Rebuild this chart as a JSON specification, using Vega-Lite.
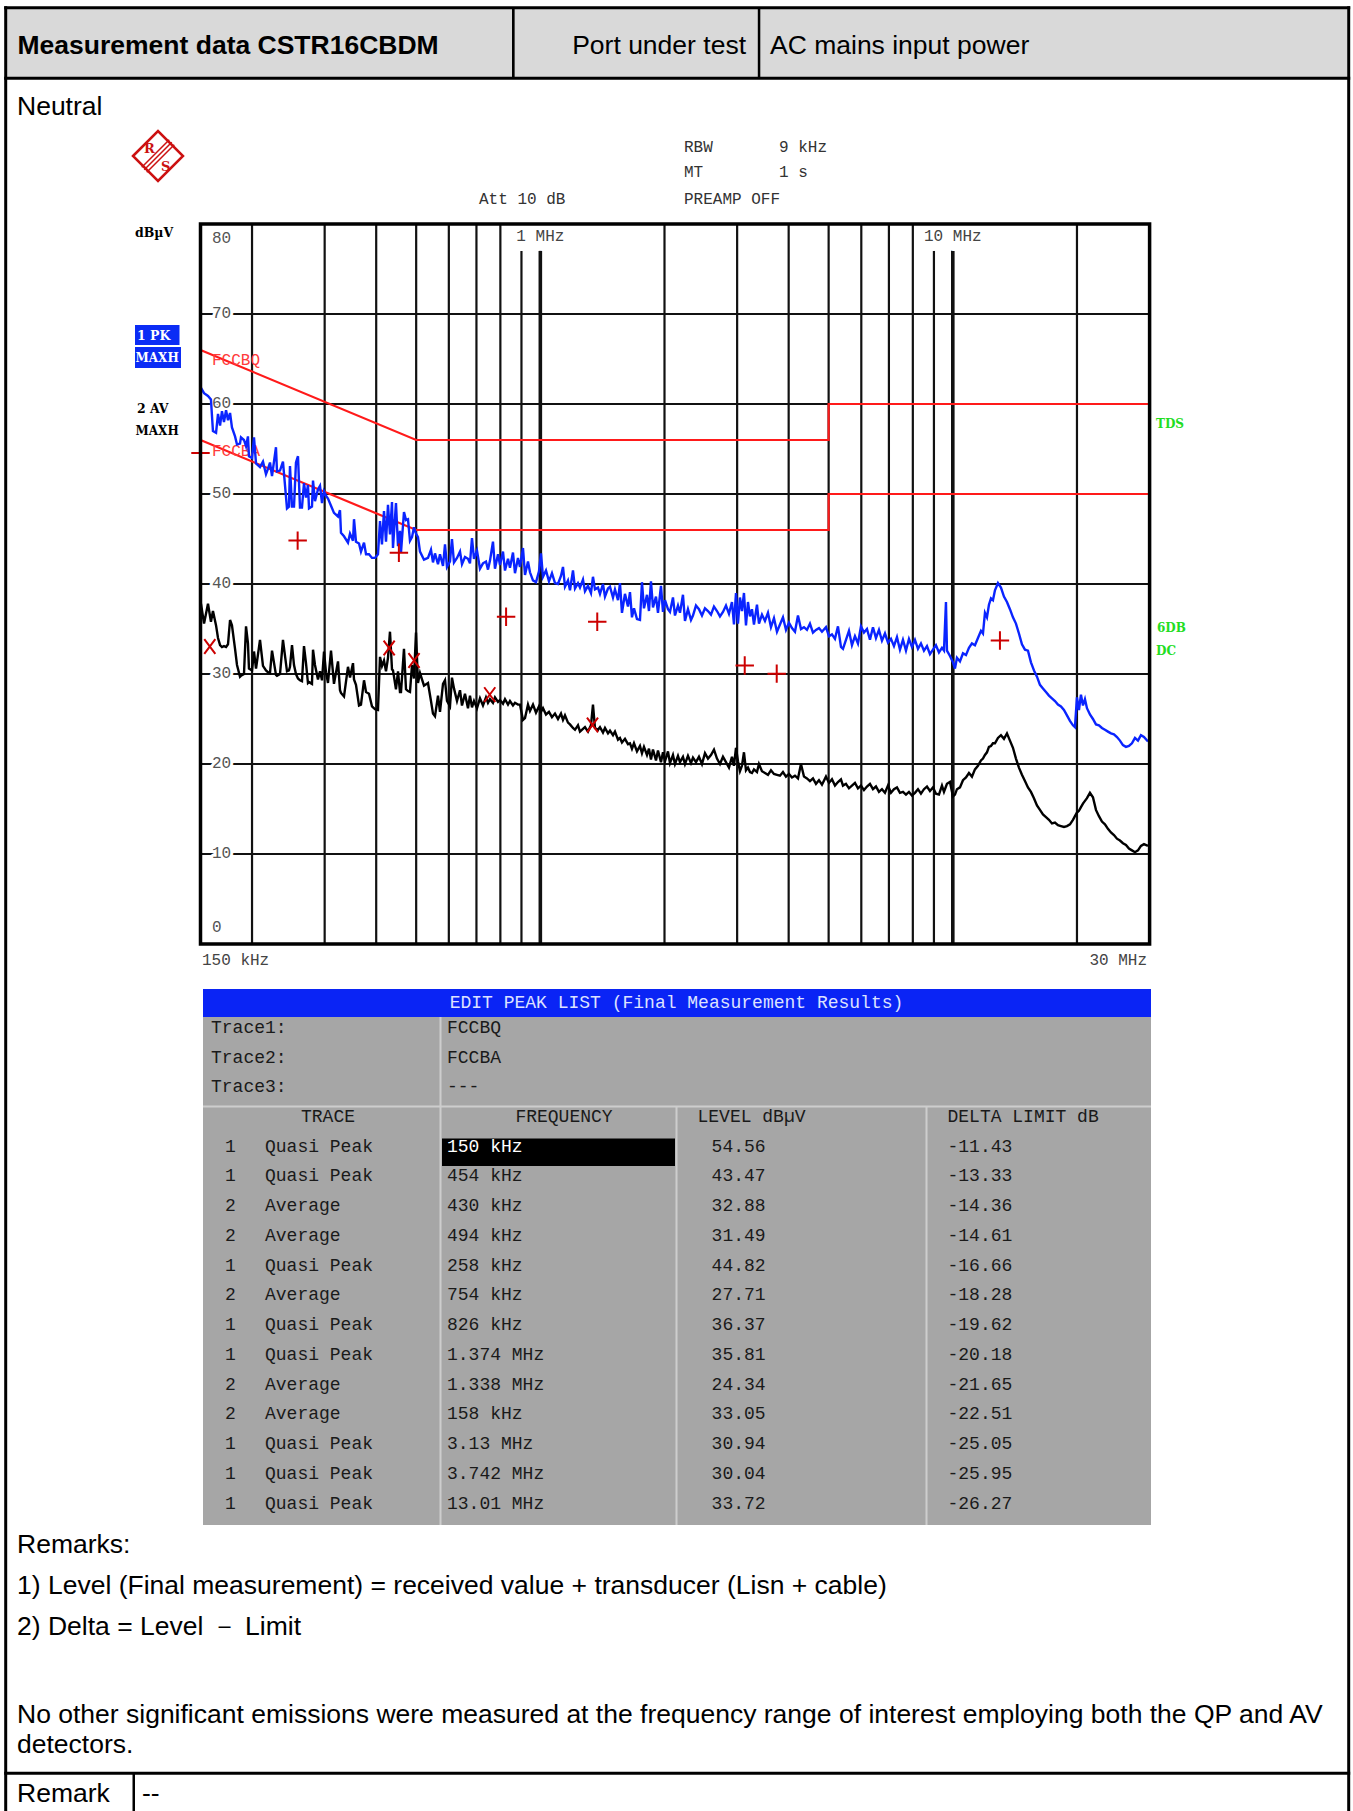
{
"$schema":"https://vega.github.io/schema/vega-lite/v6.json",
"width":1353,"height":1811,"autosize":{"type":"none"},"padding":0,
"background":"#ffffff",
"config":{"view":{"stroke":null},"text":{"align":"left","baseline":"alphabetic","font":"Liberation Sans","fontSize":26.5,"color":"#000000"}},
"data":{"values":[{}]},
"datasets":{
"scan":[
{"f":150.4,"pk":61.8,"av":37.8},{"f":153.0,"pk":61.2,"av":35.6},{"f":156.4,"pk":60.9,"av":37.8},{"f":159.0,"pk":60.5,"av":35.8},{"f":160.8,"pk":57.0,"av":37.0},{"f":163.6,"pk":56.8,"av":35.4},{"f":165.4,"pk":58.9,"av":34.0},{"f":167.3,"pk":57.6,"av":33.2},{"f":169.1,"pk":59.2,"av":33.0},{"f":171.0,"pk":58.0,"av":33.1},{"f":173.0,"pk":59.3,"av":33.0},{"f":174.9,"pk":58.2,"av":33.3},{"f":176.9,"pk":59.0,"av":36.0},{"f":178.8,"pk":57.4,"av":35.4},{"f":181.9,"pk":56.4,"av":32.8},{"f":183.9,"pk":55.5,"av":31.0},{"f":187.0,"pk":55.6,"av":29.7},{"f":188.0,"pk":56.3,"av":29.8},{"f":191.2,"pk":56.0,"av":30.0},{"f":193.4,"pk":55.3,"av":35.3},{"f":195.5,"pk":56.4,"av":33.4},{"f":196.6,"pk":54.2,"av":30.6},{"f":200.0,"pk":54.0,"av":30.4},{"f":202.2,"pk":56.3,"av":32.5},{"f":204.5,"pk":53.4,"av":30.6},{"f":209.1,"pk":53.0,"av":33.8},{"f":212.6,"pk":53.6,"av":30.9},{"f":216.2,"pk":52.2,"av":30.4},{"f":218.6,"pk":52.8,"av":30.2},{"f":221.1,"pk":53.5,"av":30.1},{"f":223.6,"pk":52.0,"av":32.6},{"f":228.6,"pk":55.2,"av":29.9},{"f":229.9,"pk":52.5,"av":29.8},{"f":233.8,"pk":52.6,"av":30.0},{"f":237.7,"pk":53.6,"av":33.8},{"f":243.1,"pk":48.4,"av":30.3},{"f":245.8,"pk":48.6,"av":30.4},{"f":247.2,"pk":53.1,"av":30.8},{"f":250.0,"pk":48.6,"av":33.2},{"f":252.8,"pk":48.6,"av":31.0},{"f":255.6,"pk":53.5,"av":30.0},{"f":258.5,"pk":54.2,"av":29.5},{"f":261.4,"pk":48.5,"av":29.3},{"f":264.3,"pk":48.5,"av":29.2},{"f":267.3,"pk":51.2,"av":33.1},{"f":270.3,"pk":49.6,"av":31.2},{"f":273.3,"pk":51.0,"av":29.0},{"f":274.9,"pk":48.4,"av":29.1},{"f":279.5,"pk":48.6,"av":28.9},{"f":281.1,"pk":51.5,"av":32.7},{"f":284.2,"pk":49.2,"av":31.0},{"f":289.0,"pk":50.5,"av":29.4},{"f":292.3,"pk":50.9,"av":30.3},{"f":295.6,"pk":49.0,"av":29.3},{"f":298.9,"pk":50.3,"av":32.5},{"f":302.2,"pk":49.8,"av":30.2},{"f":305.6,"pk":49.5,"av":29.0},{"f":310.8,"pk":48.7,"av":32.6},{"f":316.0,"pk":47.9,"av":28.9},{"f":323.2,"pk":47.5,"av":31.4},{"f":326.8,"pk":48.2,"av":28.2},{"f":328.6,"pk":45.7,"av":27.9},{"f":334.2,"pk":45.3,"av":27.5},{"f":341.7,"pk":44.6,"av":30.8},{"f":345.6,"pk":45.6,"av":29.6},{"f":351.4,"pk":44.8,"av":31.2},{"f":353.4,"pk":47.2,"av":29.4},{"f":357.3,"pk":44.7,"av":28.8},{"f":363.4,"pk":44.5,"av":26.5},{"f":367.4,"pk":43.6,"av":26.6},{"f":373.7,"pk":44.6,"av":29.3},{"f":377.9,"pk":43.3,"av":28.0},{"f":384.2,"pk":43.3,"av":27.8},{"f":390.7,"pk":42.9,"av":26.4},{"f":397.3,"pk":42.9,"av":26.1},{"f":404.0,"pk":43.3,"av":26.0},{"f":408.6,"pk":47.0,"av":31.9},{"f":413.1,"pk":44.4,"av":30.9},{"f":417.8,"pk":48.1,"av":31.5},{"f":422.5,"pk":44.7,"av":30.3},{"f":427.2,"pk":48.8,"av":31.8},{"f":432.0,"pk":45.5,"av":34.7},{"f":436.9,"pk":49.1,"av":30.5},{"f":439.3,"pk":44.0,"av":30.4},{"f":446.7,"pk":49.0,"av":28.3},{"f":451.8,"pk":44.2,"av":30.3},{"f":456.8,"pk":45.9,"av":28.0},{"f":459.4,"pk":43.5,"av":28.0},{"f":467.1,"pk":48.0,"av":32.8},{"f":472.4,"pk":47.1,"av":28.3},{"f":477.7,"pk":47.2,"av":28.1},{"f":483.0,"pk":44.8,"av":28.0},{"f":488.5,"pk":45.2,"av":31.0},{"f":494.0,"pk":46.3,"av":29.5},{"f":499.5,"pk":45.6,"av":34.6},{"f":505.1,"pk":45.2,"av":29.0},{"f":510.8,"pk":43.6,"av":30.1},{"f":522.3,"pk":42.7,"av":28.7},{"f":534.1,"pk":42.9,"av":29.0},{"f":543.1,"pk":43.8,"av":27.0},{"f":549.2,"pk":42.4,"av":25.6},{"f":555.4,"pk":43.4,"av":25.3},{"f":564.8,"pk":42.2,"av":27.6},{"f":571.1,"pk":43.3,"av":25.8},{"f":580.8,"pk":42.0,"av":28.9},{"f":587.3,"pk":44.4,"av":29.3},{"f":593.9,"pk":41.9,"av":27.0},{"f":603.9,"pk":42.5,"av":26.4},{"f":610.6,"pk":45.0,"av":29.6},{"f":617.5,"pk":42.4,"av":28.4},{"f":628.0,"pk":42.9,"av":27.0},{"f":638.6,"pk":43.6,"av":28.2},{"f":645.7,"pk":42.2,"av":26.5},{"f":656.6,"pk":43.0,"av":27.8},{"f":667.7,"pk":42.8,"av":26.2},{"f":675.2,"pk":42.3,"av":27.6},{"f":682.8,"pk":45.1,"av":26.3},{"f":690.5,"pk":42.8,"av":27.0},{"f":702.1,"pk":43.7,"av":26.2},{"f":714.0,"pk":41.7,"av":27.3},{"f":726.0,"pk":42.3,"av":26.5},{"f":738.3,"pk":42.5,"av":27.4},{"f":746.6,"pk":41.6,"av":26.8},{"f":755.0,"pk":42.6,"av":27.2},{"f":767.7,"pk":44.7,"av":26.8},{"f":776.3,"pk":41.7,"av":27.4},{"f":789.5,"pk":43.3,"av":26.9},{"f":798.3,"pk":42.1,"av":27.1},{"f":811.8,"pk":43.6,"av":26.7},{"f":820.9,"pk":41.5,"av":27.2},{"f":834.8,"pk":42.8,"av":26.6},{"f":844.1,"pk":41.8,"av":27.0},{"f":858.4,"pk":43.5,"av":26.5},{"f":868.0,"pk":41.2,"av":26.8},{"f":882.7,"pk":42.9,"av":26.6},{"f":892.6,"pk":41.9,"av":26.6},{"f":907.7,"pk":44.0,"av":24.9},{"f":917.9,"pk":41.0,"av":25.1},{"f":933.4,"pk":42.5,"av":26.6},{"f":943.8,"pk":41.3,"av":25.9},{"f":959.8,"pk":40.4,"av":26.6},{"f":976.0,"pk":40.2,"av":25.7},{"f":992.4,"pk":41.4,"av":26.4},{"f":1003.6,"pk":43.4,"av":25.8},{"f":1014.9,"pk":40.8,"av":26.2},{"f":1032.1,"pk":41.5,"av":25.5},{"f":1049.4,"pk":40.3,"av":25.8},{"f":1067.1,"pk":41.2,"av":25.2},{"f":1085.2,"pk":40.1,"av":25.6},{"f":1103.5,"pk":40.0,"av":25.0},{"f":1122.1,"pk":40.9,"av":25.6},{"f":1134.8,"pk":41.9,"av":24.9},{"f":1147.5,"pk":39.7,"av":25.4},{"f":1166.9,"pk":40.4,"av":24.6},{"f":1180.0,"pk":39.3,"av":24.4},{"f":1199.9,"pk":41.5,"av":24.0},{"f":1213.4,"pk":39.5,"av":23.8},{"f":1233.9,"pk":40.1,"av":24.3},{"f":1247.7,"pk":39.6,"av":23.6},{"f":1268.8,"pk":40.5,"av":23.9},{"f":1283.0,"pk":39.2,"av":24.1},{"f":1304.7,"pk":39.8,"av":23.6},{"f":1326.7,"pk":39.0,"av":24.3},{"f":1341.6,"pk":40.8,"av":26.6},{"f":1356.6,"pk":39.4,"av":24.0},{"f":1379.6,"pk":39.6,"av":23.8},{"f":1395.1,"pk":38.9,"av":24.1},{"f":1418.7,"pk":40.0,"av":23.5},{"f":1434.6,"pk":38.6,"av":24.0},{"f":1458.9,"pk":39.5,"av":23.4},{"f":1475.2,"pk":39.7,"av":23.7},{"f":1500.1,"pk":38.5,"av":23.2},{"f":1516.9,"pk":39.4,"av":23.6},{"f":1542.6,"pk":38.2,"av":22.7},{"f":1559.8,"pk":40.1,"av":22.9},{"f":1577.3,"pk":36.8,"av":22.4},{"f":1603.9,"pk":38.9,"av":22.8},{"f":1631.1,"pk":37.5,"av":22.2},{"f":1649.4,"pk":39.1,"av":22.3},{"f":1667.9,"pk":36.3,"av":21.7},{"f":1686.7,"pk":37.3,"av":22.3},{"f":1715.2,"pk":36.1,"av":21.4},{"f":1744.1,"pk":36.0,"av":22.0},{"f":1763.6,"pk":40.2,"av":21.2},{"f":1783.5,"pk":37.3,"av":21.9},{"f":1813.7,"pk":38.8,"av":21.0},{"f":1833.9,"pk":37.0,"av":21.7},{"f":1854.5,"pk":40.3,"av":20.5},{"f":1875.4,"pk":37.4,"av":21.6},{"f":1907.1,"pk":38.6,"av":20.4},{"f":1928.5,"pk":36.8,"av":21.5},{"f":1961.0,"pk":39.8,"av":20.2},{"f":1983.1,"pk":36.9,"av":21.3},{"f":2005.3,"pk":38.2,"av":20.3},{"f":2039.2,"pk":37.2,"av":21.4},{"f":2062.0,"pk":36.9,"av":20.1},{"f":2096.8,"pk":38.5,"av":21.0},{"f":2120.4,"pk":36.5,"av":20.0},{"f":2156.2,"pk":37.6,"av":20.9},{"f":2180.4,"pk":36.8,"av":20.2},{"f":2217.2,"pk":38.8,"av":20.8},{"f":2242.1,"pk":35.9,"av":20.0},{"f":2280.0,"pk":37.2,"av":20.9},{"f":2318.5,"pk":36.0,"av":20.1},{"f":2344.6,"pk":36.5,"av":20.7},{"f":2384.2,"pk":37.6,"av":20.2},{"f":2424.3,"pk":37.2,"av":20.8},{"f":2465.3,"pk":36.5,"av":20.0},{"f":2507.0,"pk":37.3,"av":21.2},{"f":2549.4,"pk":37.0,"av":20.6},{"f":2592.3,"pk":36.6,"av":21.0},{"f":2636.2,"pk":37.5,"av":21.6},{"f":2680.8,"pk":37.0,"av":20.6},{"f":2725.9,"pk":36.4,"av":20.0},{"f":2772.0,"pk":36.9,"av":20.8},{"f":2818.9,"pk":37.6,"av":20.2},{"f":2866.3,"pk":36.7,"av":19.6},{"f":2914.7,"pk":38.0,"av":20.8},{"f":2947.5,"pk":35.5,"av":19.8},{"f":2980.7,"pk":39.0,"av":21.8},{"f":3014.1,"pk":35.6,"av":20.3},{"f":3047.9,"pk":38.5,"av":19.2},{"f":3082.0,"pk":37.0,"av":19.8},{"f":3116.8,"pk":39.0,"av":21.3},{"f":3151.8,"pk":35.4,"av":19.3},{"f":3187.2,"pk":38.0,"av":19.6},{"f":3222.9,"pk":36.4,"av":19.1},{"f":3259.0,"pk":37.2,"av":19.0},{"f":3295.7,"pk":35.5,"av":19.4},{"f":3351.5,"pk":37.7,"av":19.1},{"f":3388.9,"pk":35.6,"av":20.0},{"f":3446.1,"pk":36.6,"av":19.2},{"f":3504.3,"pk":35.9,"av":19.0},{"f":3563.6,"pk":36.8,"av":18.8},{"f":3623.7,"pk":35.2,"av":19.3},{"f":3685.0,"pk":36.2,"av":18.9},{"f":3747.3,"pk":34.7,"av":18.8},{"f":3810.4,"pk":35.5,"av":18.7},{"f":3874.8,"pk":36.3,"av":19.1},{"f":3940.3,"pk":34.9,"av":18.6},{"f":4006.6,"pk":35.7,"av":18.9},{"f":4074.3,"pk":35.1,"av":18.5},{"f":4143.2,"pk":34.7,"av":18.7},{"f":4213.3,"pk":36.5,"av":18.4},{"f":4284.4,"pk":35.0,"av":20.0},{"f":4356.8,"pk":35.2,"av":18.6},{"f":4430.5,"pk":34.9,"av":18.4},{"f":4505.1,"pk":35.6,"av":18.1},{"f":4581.2,"pk":34.6,"av":18.4},{"f":4658.7,"pk":34.9,"av":17.8},{"f":4737.1,"pk":35.1,"av":18.2},{"f":4817.1,"pk":34.7,"av":17.7},{"f":4926.1,"pk":35.2,"av":18.6},{"f":5009.0,"pk":34.2,"av":17.9},{"f":5093.6,"pk":34.4,"av":18.3},{"f":5179.8,"pk":33.9,"av":17.6},{"f":5267.4,"pk":35.3,"av":18.0},{"f":5356.2,"pk":33.0,"av":18.3},{"f":5416.4,"pk":32.8,"av":17.6},{"f":5508.0,"pk":33.8,"av":17.8},{"f":5600.7,"pk":34.8,"av":17.3},{"f":5695.2,"pk":33.2,"av":17.6},{"f":5791.5,"pk":34.2,"av":17.9},{"f":5889.5,"pk":33.4,"av":17.3},{"f":5988.8,"pk":35.3,"av":17.6},{"f":6090.1,"pk":34.6,"av":17.1},{"f":6193.1,"pk":35.0,"av":17.5},{"f":6297.4,"pk":33.8,"av":17.8},{"f":6403.8,"pk":35.2,"av":17.2},{"f":6512.1,"pk":34.0,"av":17.5},{"f":6621.7,"pk":34.9,"av":16.9},{"f":6733.6,"pk":33.7,"av":17.2},{"f":6847.5,"pk":34.5,"av":16.8},{"f":6963.3,"pk":33.5,"av":17.6},{"f":7080.6,"pk":33.9,"av":16.8},{"f":7200.3,"pk":33.1,"av":17.2},{"f":7322.1,"pk":34.1,"av":17.4},{"f":7445.4,"pk":32.7,"av":16.8},{"f":7571.2,"pk":33.8,"av":16.9},{"f":7699.3,"pk":32.6,"av":16.6},{"f":7828.8,"pk":33.9,"av":16.9},{"f":7961.1,"pk":33.0,"av":16.5},{"f":8095.7,"pk":33.8,"av":16.8},{"f":8232.7,"pk":32.8,"av":17.2},{"f":8371.5,"pk":33.4,"av":16.7},{"f":8513.0,"pk":32.6,"av":17.2},{"f":8657.1,"pk":33.1,"av":17.5},{"f":8802.8,"pk":32.2,"av":17.0},{"f":8951.6,"pk":32.7,"av":17.4},{"f":9103.0,"pk":33.2,"av":16.7},{"f":9256.1,"pk":32.4,"av":16.6},{"f":9412.5,"pk":32.9,"av":17.6},{"f":9518.6,"pk":32.6,"av":16.9},{"f":9625.6,"pk":38.0,"av":17.5},{"f":9679.6,"pk":32.6,"av":17.8},{"f":9842.5,"pk":32.0,"av":18.0},{"f":10009,"pk":31.3,"av":16.4},{"f":10121,"pk":30.6,"av":16.6},{"f":10235,"pk":31.8,"av":17.2},{"f":10408,"pk":31.4,"av":17.4},{"f":10584,"pk":32.3,"av":18.2},{"f":10763,"pk":32.1,"av":18.5},{"f":10944,"pk":32.9,"av":19.0},{"f":11128,"pk":33.4,"av":18.6},{"f":11316,"pk":33.2,"av":19.4},{"f":11508,"pk":34.0,"av":19.8},{"f":11702,"pk":34.8,"av":20.4},{"f":11834,"pk":34.5,"av":20.6},{"f":11966,"pk":36.8,"av":21.0},{"f":12101,"pk":36.3,"av":21.3},{"f":12236,"pk":37.7,"av":21.9},{"f":12374,"pk":38.4,"av":22.0},{"f":12513,"pk":38.2,"av":22.3},{"f":12653,"pk":39.3,"av":22.3},{"f":12867,"pk":40.1,"av":22.9},{"f":13084,"pk":39.6,"av":23.2},{"f":13305,"pk":38.6,"av":22.8},{"f":13530,"pk":38.0,"av":23.4},{"f":13758,"pk":37.2,"av":22.6},{"f":13991,"pk":36.3,"av":21.8},{"f":14227,"pk":35.6,"av":20.6},{"f":14467,"pk":34.5,"av":19.6},{"f":14711,"pk":33.3,"av":18.8},{"f":14960,"pk":32.7,"av":18.1},{"f":15213,"pk":32.6,"av":17.4},{"f":15469,"pk":31.3,"av":16.9},{"f":15731,"pk":30.4,"av":16.2},{"f":15997,"pk":29.7,"av":15.4},{"f":16267,"pk":28.8,"av":14.9},{"f":16542,"pk":28.4,"av":14.4},{"f":16822,"pk":28.0,"av":14.1},{"f":17105,"pk":27.6,"av":13.8},{"f":17393,"pk":27.3,"av":13.4},{"f":17687,"pk":27.0,"av":13.5},{"f":17986,"pk":26.6,"av":13.2},{"f":18290,"pk":26.4,"av":13.1},{"f":18599,"pk":26.0,"av":13.0},{"f":18914,"pk":25.4,"av":13.1},{"f":19232,"pk":24.8,"av":13.3},{"f":19557,"pk":24.3,"av":13.8},{"f":19776,"pk":24.1,"av":14.2},{"f":19999,"pk":27.4,"av":14.6},{"f":20223,"pk":26.0,"av":14.8},{"f":20450,"pk":27.7,"av":15.2},{"f":20680,"pk":26.5,"av":15.6},{"f":20912,"pk":27.2,"av":15.9},{"f":21147,"pk":26.2,"av":16.2},{"f":21504,"pk":25.5,"av":16.8},{"f":21867,"pk":25.0,"av":16.3},{"f":22237,"pk":24.4,"av":14.9},{"f":22611,"pk":24.3,"av":14.2},{"f":22993,"pk":24.0,"av":13.6},{"f":23382,"pk":23.8,"av":13.3},{"f":23777,"pk":23.6,"av":12.8},{"f":24179,"pk":23.4,"av":12.4},{"f":24587,"pk":23.3,"av":12.1},{"f":25003,"pk":23.0,"av":11.7},{"f":25424,"pk":22.6,"av":11.5},{"f":25854,"pk":22.1,"av":11.2},{"f":26291,"pk":21.9,"av":11.0},{"f":26733,"pk":22.0,"av":10.6},{"f":27185,"pk":22.3,"av":10.4},{"f":27645,"pk":22.9,"av":10.2},{"f":28113,"pk":22.6,"av":10.4},{"f":28586,"pk":23.2,"av":10.9},{"f":29069,"pk":23.0,"av":11.1},{"f":29726,"pk":22.5,"av":10.9}
],
"peaks":[
{"n":1,"tr":1,"det":"Quasi Peak","fk":150,"fl":"150 kHz","lvl":54.56,"dl":"-11.43"},
{"n":2,"tr":1,"det":"Quasi Peak","fk":454,"fl":"454 kHz","lvl":43.47,"dl":"-13.33"},
{"n":3,"tr":2,"det":"Average","fk":430,"fl":"430 kHz","lvl":32.88,"dl":"-14.36"},
{"n":4,"tr":2,"det":"Average","fk":494,"fl":"494 kHz","lvl":31.49,"dl":"-14.61"},
{"n":5,"tr":1,"det":"Quasi Peak","fk":258,"fl":"258 kHz","lvl":44.82,"dl":"-16.66"},
{"n":6,"tr":2,"det":"Average","fk":754,"fl":"754 kHz","lvl":27.71,"dl":"-18.28"},
{"n":7,"tr":1,"det":"Quasi Peak","fk":826,"fl":"826 kHz","lvl":36.37,"dl":"-19.62"},
{"n":8,"tr":1,"det":"Quasi Peak","fk":1374,"fl":"1.374 MHz","lvl":35.81,"dl":"-20.18"},
{"n":9,"tr":2,"det":"Average","fk":1338,"fl":"1.338 MHz","lvl":24.34,"dl":"-21.65"},
{"n":10,"tr":2,"det":"Average","fk":158,"fl":"158 kHz","lvl":33.05,"dl":"-22.51"},
{"n":11,"tr":1,"det":"Quasi Peak","fk":3130,"fl":"3.13 MHz","lvl":30.94,"dl":"-25.05"},
{"n":12,"tr":1,"det":"Quasi Peak","fk":3742,"fl":"3.742 MHz","lvl":30.04,"dl":"-25.95"},
{"n":13,"tr":1,"det":"Quasi Peak","fk":13010,"fl":"13.01 MHz","lvl":33.72,"dl":"-26.27"}
]
},
"resolve":{"scale":{"x":"independent","y":"independent"}},
"layer":[
{"mark":{"type":"rect","x":7,"x2":1347,"y":9,"y2":77,"fill":"#d9d9d9"}},
{"mark":{"type":"rect","x":203,"x2":1151,"y":1017,"y2":1525,"fill":"#a6a6a6"}},
{"mark":{"type":"rect","x":203,"x2":1151,"y":989,"y2":1017,"fill":"#0a24f5"}},
{"mark":{"type":"rect","x":442,"x2":675,"y":1138.5,"y2":1166,"fill":"#000000"}},
{"mark":{"type":"rect","x":439.5,"x2":441.5,"y":1017,"y2":1525,"fill":"#cdcdcd"}},
{"mark":{"type":"rect","x":675.5,"x2":677.5,"y":1107,"y2":1525,"fill":"#cdcdcd"}},
{"mark":{"type":"rect","x":925.5,"x2":927.5,"y":1107,"y2":1525,"fill":"#cdcdcd"}},
{"mark":{"type":"rect","x":203,"x2":1151,"y":1105.5,"y2":1107.5,"fill":"#cdcdcd"}},
{"mark":{"type":"rect","x":4.2,"x2":7.2,"y":6.2,"y2":1811,"fill":"#000000"}},
{"mark":{"type":"rect","x":1347.2,"x2":1350.2,"y":6.2,"y2":1811,"fill":"#000000"}},
{"mark":{"type":"rect","x":4.2,"x2":1350.2,"y":6.2,"y2":9.2,"fill":"#000000"}},
{"mark":{"type":"rect","x":4.2,"x2":1350.2,"y":76.8,"y2":79.8,"fill":"#000000"}},
{"mark":{"type":"rect","x":512,"x2":514.6,"y":7.7,"y2":78.3,"fill":"#000000"}},
{"mark":{"type":"rect","x":757.8,"x2":760.3,"y":7.7,"y2":78.3,"fill":"#000000"}},
{"mark":{"type":"rect","x":4.2,"x2":1350.2,"y":1771.8,"y2":1774.8,"fill":"#000000"}},
{"mark":{"type":"rect","x":132.5,"x2":135,"y":1773,"y2":1811,"fill":"#000000"}},
{"mark":{"type":"text","text":"Measurement data CSTR16CBDM","x":17.5,"y":54,"fontWeight":"bold"}},
{"mark":{"type":"text","text":"Port under test","x":746,"y":54,"align":"right"}},
{"mark":{"type":"text","text":"AC mains input power","x":770,"y":54}},
{"mark":{"type":"text","text":"Neutral","x":17,"y":115}},
{"mark":{"type":"text","text":"Remarks:","x":17,"y":1553}},
{"mark":{"type":"text","text":"1) Level (Final measurement) = received value + transducer (Lisn + cable)","x":17,"y":1594}},
{"mark":{"type":"text","text":"2) Delta = Level － Limit","x":17,"y":1635}},
{"mark":{"type":"text","text":"No other significant emissions were measured at the frequency range of interest employing both the QP and AV","x":17,"y":1723}},
{"mark":{"type":"text","text":"detectors.","x":17,"y":1753}},
{"mark":{"type":"text","text":"Remark","x":17,"y":1802}},
{"mark":{"type":"text","text":"--","x":142,"y":1802}},
{"mark":{"type":"point","shape":"diamond","x":158,"y":156,"size":2500,"filled":false,"color":"#cc1111","strokeWidth":2.5,"opacity":1}},
{"mark":{"type":"point","shape":"M-0.55,0.55L0.55,-0.55M-0.45,0.65L0.65,-0.45M-0.65,0.45L0.45,-0.65","x":158,"y":156,"size":2500,"filled":false,"color":"#cc1111","strokeWidth":1.5,"opacity":1}},
{"mark":{"type":"text","text":"R","x":144,"y":153,"font":"DejaVu Serif","fontWeight":"bold","fontSize":13,"color":"#cc1111"}},
{"mark":{"type":"text","text":"S","x":161,"y":171,"font":"DejaVu Serif","fontWeight":"bold","fontSize":13,"color":"#cc1111"}},
{"mark":{"type":"text","text":"RBW","x":684,"y":152,"font":"Liberation Mono","fontSize":16,"color":"#333333"}},
{"mark":{"type":"text","text":"9 kHz","x":779,"y":152,"font":"Liberation Mono","fontSize":16,"color":"#333333"}},
{"mark":{"type":"text","text":"MT","x":684,"y":177,"font":"Liberation Mono","fontSize":16,"color":"#333333"}},
{"mark":{"type":"text","text":"1 s","x":779,"y":177,"font":"Liberation Mono","fontSize":16,"color":"#333333"}},
{"mark":{"type":"text","text":"Att 10 dB","x":479,"y":204,"font":"Liberation Mono","fontSize":16,"color":"#333333"}},
{"mark":{"type":"text","text":"PREAMP OFF","x":684,"y":204,"font":"Liberation Mono","fontSize":16,"color":"#333333"}},
{"mark":{"type":"text","text":"dBµV","x":135,"y":237,"font":"DejaVu Serif","fontWeight":"bold","fontSize":12.5,"color":"#000000"}},
{"mark":{"type":"rect","x":135,"x2":179.5,"y":325,"y2":345,"fill":"#0b2cf5"}},
{"mark":{"type":"rect","x":135,"x2":181,"y":347,"y2":368,"fill":"#0b2cf5"}},
{"mark":{"type":"text","text":"1 PK","x":137,"y":339.5,"font":"DejaVu Serif","fontWeight":"bold","fontSize":12.5,"color":"#ffffff"}},
{"mark":{"type":"text","text":"MAXH","x":135.5,"y":361.5,"font":"DejaVu Serif","fontWeight":"bold","fontSize":12,"color":"#ffffff"}},
{"mark":{"type":"text","text":"2 AV","x":137,"y":413,"font":"DejaVu Serif","fontWeight":"bold","fontSize":12.5,"color":"#000000"}},
{"mark":{"type":"text","text":"MAXH","x":135.5,"y":435,"font":"DejaVu Serif","fontWeight":"bold","fontSize":12,"color":"#000000"}},
{"mark":{"type":"text","text":"TDS","x":1156,"y":428,"font":"DejaVu Serif","fontWeight":"bold","fontSize":12,"color":"#22dd22"}},
{"mark":{"type":"text","text":"6DB","x":1157,"y":632,"font":"DejaVu Serif","fontWeight":"bold","fontSize":12,"color":"#22dd22"}},
{"mark":{"type":"text","text":"DC","x":1156,"y":655,"font":"DejaVu Serif","fontWeight":"bold","fontSize":12,"color":"#22dd22"}},
{"mark":{"type":"text","text":"150 kHz","x":202,"y":965,"font":"Liberation Mono","fontSize":16,"color":"#444444"}},
{"mark":{"type":"text","text":"30 MHz","x":1147,"y":965,"align":"right","font":"Liberation Mono","fontSize":16,"color":"#444444"}},
{"mark":{"type":"text","text":"EDIT PEAK LIST (Final Measurement Results)","x":676.5,"y":1003,"align":"center","baseline":"middle","font":"Liberation Mono","fontSize":18,"color":"#dde2ff"}},
{"mark":{"type":"text","text":"Trace1:","x":211,"y":1028,"baseline":"middle","font":"Liberation Mono","fontSize":18,"color":"#1a1a1a"}},
{"mark":{"type":"text","text":"Trace2:","x":211,"y":1057.6,"baseline":"middle","font":"Liberation Mono","fontSize":18,"color":"#1a1a1a"}},
{"mark":{"type":"text","text":"Trace3:","x":211,"y":1087,"baseline":"middle","font":"Liberation Mono","fontSize":18,"color":"#1a1a1a"}},
{"mark":{"type":"text","text":"FCCBQ","x":447,"y":1028,"baseline":"middle","font":"Liberation Mono","fontSize":18,"color":"#1a1a1a"}},
{"mark":{"type":"text","text":"FCCBA","x":447,"y":1057.6,"baseline":"middle","font":"Liberation Mono","fontSize":18,"color":"#1a1a1a"}},
{"mark":{"type":"text","text":"---","x":447,"y":1087,"baseline":"middle","font":"Liberation Mono","fontSize":18,"color":"#1a1a1a"}},
{"mark":{"type":"text","text":"TRACE","x":328,"y":1117,"align":"center","baseline":"middle","font":"Liberation Mono","fontSize":18,"color":"#1a1a1a"}},
{"mark":{"type":"text","text":"FREQUENCY","x":564,"y":1117,"align":"center","baseline":"middle","font":"Liberation Mono","fontSize":18,"color":"#1a1a1a"}},
{"mark":{"type":"text","text":"LEVEL dBµV","x":697.5,"y":1117,"baseline":"middle","font":"Liberation Mono","fontSize":18,"color":"#1a1a1a"}},
{"mark":{"type":"text","text":"DELTA LIMIT dB","x":947.5,"y":1117,"baseline":"middle","font":"Liberation Mono","fontSize":18,"color":"#1a1a1a"}},
{"layer":[
 {"data":{"values":[{"f":200},{"f":300},{"f":400},{"f":500},{"f":600},{"f":700},{"f":800},{"f":900},{"f":1000},{"f":2000},{"f":3000},{"f":4000},{"f":5000},{"f":6000},{"f":7000},{"f":8000},{"f":9000},{"f":10000},{"f":20000}]},
  "mark":{"type":"rule","color":"#111111"},
  "encoding":{"x":{"field":"f","type":"quantitative","scale":{"type":"log","domain":[150,30000],"range":[200.5,1149.6],"nice":false},"axis":null},
   "y":{"datum":0,"type":"quantitative","scale":{"type":"linear","domain":[0,80],"range":[944,224],"nice":false,"zero":false},"axis":null},"y2":{"datum":80},
   "strokeWidth":{"condition":{"test":"datum.f==1000||datum.f==10000","value":3.6},"value":2.2}}},
 {"data":{"values":[{"dB":10},{"dB":20},{"dB":30},{"dB":40},{"dB":50},{"dB":60},{"dB":70}]},
  "mark":{"type":"rule","color":"#111111","strokeWidth":2.2},
  "encoding":{"y":{"field":"dB","type":"quantitative"},"x":{"datum":150},"x2":{"datum":30000}}},
 {"data":{"values":[{"dB":10},{"dB":20},{"dB":30},{"dB":40},{"dB":50},{"dB":60},{"dB":70}]},
  "mark":{"type":"text","align":"left","baseline":"middle","dx":11.5,"dy":-1,"font":"Liberation Mono","fontSize":16,"fill":"#ffffff","stroke":"#ffffff","strokeWidth":6,"strokeJoin":"round"},
  "encoding":{"y":{"field":"dB","type":"quantitative"},"x":{"datum":150},"text":{"field":"dB","type":"nominal"}}},
 {"data":{"values":[{"dB":10},{"dB":20},{"dB":30},{"dB":40},{"dB":50},{"dB":60},{"dB":70}]},
  "mark":{"type":"text","align":"left","baseline":"middle","dx":11.5,"dy":-1,"font":"Liberation Mono","fontSize":16,"color":"#555555"},
  "encoding":{"y":{"field":"dB","type":"quantitative"},"x":{"datum":150},"text":{"field":"dB","type":"nominal"}}},
 {"mark":{"type":"text","text":"80","align":"left","baseline":"middle","dx":11.5,"dy":13.5,"font":"Liberation Mono","fontSize":16,"color":"#555555"},
  "encoding":{"x":{"datum":150},"y":{"datum":80}}},
 {"mark":{"type":"text","text":"0","align":"left","baseline":"middle","dx":11.5,"dy":-17.5,"font":"Liberation Mono","fontSize":16,"color":"#555555"},
  "encoding":{"x":{"datum":150},"y":{"datum":0}}},
 {"data":{"values":[{"f":1000,"lab":"1 MHz"},{"f":10000,"lab":"10 MHz"}]},
  "mark":{"type":"text","align":"center","baseline":"alphabetic","dy":16.7,"font":"Liberation Mono","fontSize":16,"fill":"#ffffff","stroke":"#ffffff","strokeWidth":20,"strokeJoin":"round"},
  "encoding":{"x":{"field":"f","type":"quantitative"},"y":{"datum":80},"text":{"field":"lab","type":"nominal"}}},
 {"data":{"values":[{"f":1000,"lab":"1 MHz"},{"f":10000,"lab":"10 MHz"}]},
  "mark":{"type":"text","align":"center","baseline":"alphabetic","dy":16.7,"font":"Liberation Mono","fontSize":16,"color":"#444444"},
  "encoding":{"x":{"field":"f","type":"quantitative"},"y":{"datum":80},"text":{"field":"lab","type":"nominal"}}},
 {"data":{"values":[{"lim":"QP","i":1,"f":150,"dB":66},{"lim":"QP","i":2,"f":500,"dB":56},{"lim":"QP","i":3,"f":5000,"dB":56},{"lim":"QP","i":4,"f":5000,"dB":60},{"lim":"QP","i":5,"f":30000,"dB":60},{"lim":"AV","i":1,"f":150,"dB":56},{"lim":"AV","i":2,"f":500,"dB":46},{"lim":"AV","i":3,"f":5000,"dB":46},{"lim":"AV","i":4,"f":5000,"dB":50},{"lim":"AV","i":5,"f":30000,"dB":50}]},
  "mark":{"type":"line","color":"#ff1a1a","strokeWidth":2.2},
  "encoding":{"x":{"field":"f","type":"quantitative"},"y":{"field":"dB","type":"quantitative"},"detail":{"field":"lim","type":"nominal"},"order":{"field":"i","type":"quantitative"}}},
 {"mark":{"type":"text","text":"FCCBQ","x":212,"y":365,"font":"Liberation Mono","fontSize":16,"color":"#ff3b3b"}},
 {"mark":{"type":"text","text":"FCCBA","x":212,"y":456,"font":"Liberation Mono","fontSize":16,"color":"#ff3b3b"}},
 {"data":{"name":"scan"},
  "mark":{"type":"line","color":"#0a24ff","strokeWidth":2.4},
  "encoding":{"x":{"field":"f","type":"quantitative"},"y":{"field":"pk","type":"quantitative"}}},
 {"data":{"name":"scan"},
  "mark":{"type":"line","color":"#000000","strokeWidth":2.4},
  "encoding":{"x":{"field":"f","type":"quantitative"},"y":{"field":"av","type":"quantitative"}}},
 {"data":{"name":"peaks"},"transform":[{"filter":"datum.tr==1"}],
  "mark":{"type":"point","shape":"M-1,0L1,0M0,-1L0,1","size":340,"filled":false,"color":"#cc0000","strokeWidth":2,"opacity":1},
  "encoding":{"x":{"field":"fk","type":"quantitative"},"y":{"field":"lvl","type":"quantitative"}}},
 {"data":{"name":"peaks"},"transform":[{"filter":"datum.tr==2"}],
  "mark":{"type":"point","shape":"M-0.6,-0.8L0.6,0.8M-0.6,0.8L0.6,-0.8","size":340,"filled":false,"color":"#cc0000","strokeWidth":2,"opacity":1},
  "encoding":{"x":{"field":"fk","type":"quantitative"},"y":{"field":"lvl","type":"quantitative"}}},
 {"mark":{"type":"rect","filled":false,"color":"#000000","strokeWidth":3.5},
  "encoding":{"x":{"datum":150},"x2":{"datum":30000},"y":{"datum":0},"y2":{"datum":80}}}
]},
{"data":{"name":"peaks"},
 "encoding":{"y":{"field":"n","type":"quantitative","scale":{"domain":[1,13],"range":[1146.5,1503.5],"nice":false,"zero":false},"axis":null}},
 "layer":[
  {"mark":{"type":"text","x":225,"baseline":"middle","font":"Liberation Mono","fontSize":18,"color":"#1a1a1a"},"encoding":{"text":{"field":"tr","type":"nominal"}}},
  {"mark":{"type":"text","x":265,"baseline":"middle","font":"Liberation Mono","fontSize":18,"color":"#1a1a1a"},"encoding":{"text":{"field":"det","type":"nominal"}}},
  {"mark":{"type":"text","x":447,"baseline":"middle","font":"Liberation Mono","fontSize":18},"encoding":{"text":{"field":"fl","type":"nominal"},"color":{"condition":{"test":"datum.n==1","value":"#ffffff"},"value":"#1a1a1a"}}},
  {"mark":{"type":"text","x":711.6,"baseline":"middle","font":"Liberation Mono","fontSize":18,"color":"#1a1a1a"},"encoding":{"text":{"field":"lvl","type":"quantitative","format":".2f"}}},
  {"mark":{"type":"text","x":947.5,"baseline":"middle","font":"Liberation Mono","fontSize":18,"color":"#1a1a1a"},"encoding":{"text":{"field":"dl","type":"nominal"}}}
 ]}
]
}
